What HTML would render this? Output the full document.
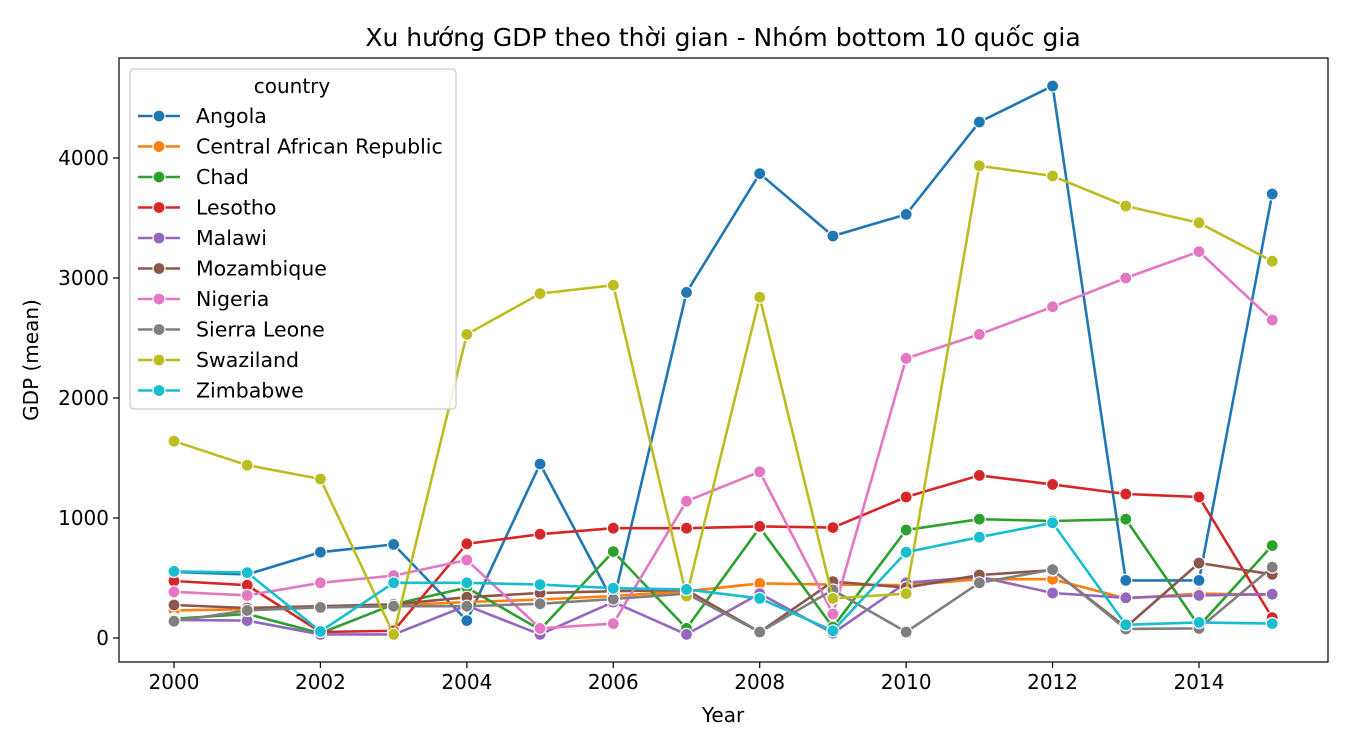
<!DOCTYPE html>
<html><head><meta charset="utf-8"><style>
body{margin:0;background:#fff;font-family:"Liberation Sans","DejaVu Sans",sans-serif}
svg text{font-family:"DejaVu Sans","Liberation Sans",sans-serif}
</style></head><body>
<svg id="chart" width="1350" height="750" xmlns="http://www.w3.org/2000/svg">
<rect width="1350" height="750" fill="#fff"/>
<text x="723" y="46" font-size="25" text-anchor="middle">Xu hướng GDP theo thời gian - Nhóm bottom 10 quốc gia</text>
<g id="plot"></g>
<text x="723" y="722" font-size="20" text-anchor="middle">Year</text>
<text x="38" y="360" font-size="20" text-anchor="middle" transform="rotate(-90 38 360)">GDP (mean)</text>
</svg>
<script>
const years=[2000,2001,2002,2003,2004,2005,2006,2007,2008,2009,2010,2011,2012,2013,2014,2015];
const xTicks=[2000,2002,2004,2006,2008,2010,2012,2014];
const yTicks=[0,1000,2000,3000,4000];
const countries=["Angola","Central African Republic","Chad","Lesotho","Malawi","Mozambique","Nigeria","Sierra Leone","Swaziland","Zimbabwe"];
const colors=["#1f77b4","#ff7f0e","#2ca02c","#d62728","#9467bd","#8c564b","#e377c2","#7f7f7f","#bcbd22","#17becf"];
const angola=[550,530,715,780,145,1450,300,2880,3870,3350,3530,4300,4600,480,480,3700];
const car=[230,240,260,270,300,320,350,390,455,445,440,490,490,330,370,360];
const chad=[160,200,40,280,420,70,720,80,920,90,900,990,975,990,100,770];
const lesotho=[475,440,50,60,785,865,915,915,930,920,1175,1355,1280,1200,1175,170];
const malawi=[150,145,30,30,270,30,300,30,370,40,460,510,375,335,355,365];
const mozambique=[275,250,265,280,340,375,390,400,50,470,420,525,565,90,625,530];
const nigeria=[385,355,460,520,650,80,120,1140,1385,200,2330,2530,2760,3000,3220,2650];
const sierra=[140,230,255,265,265,285,325,370,50,400,50,460,570,75,80,590];
const swaziland=[1640,1440,1325,30,2530,2870,2940,350,2840,330,370,3935,3850,3600,3460,3140];
const zimbabwe=[555,545,55,460,460,445,415,405,330,60,715,840,960,110,130,120];
const series=[angola,car,chad,lesotho,malawi,mozambique,nigeria,sierra,swaziland,zimbabwe];
const NS="http://www.w3.org/2000/svg";
const L=119,R=1328,T=58,B=662;
const xs=y=>174+(y-2000)*(1199-174)/14;
const ys=v=>638-v*0.12;
const g=document.getElementById('plot');
function mk(t,a,p){const e=document.createElementNS(NS,t);for(const k in a)e.setAttribute(k,a[k]);(p||g).appendChild(e);return e;}
xTicks.forEach(t=>{
 const l=mk('line',{x1:xs(t),x2:xs(t),y1:B,y2:B+6,stroke:'#000','stroke-width':1.2});
 
 
 const tx=mk('text',{x:xs(t),y:B+27,'font-size':20,'text-anchor':'middle'});tx.textContent=t;
 
 
});
yTicks.forEach(t=>{
 const l=mk('line',{x1:L-6,x2:L,y1:ys(t),y2:ys(t),stroke:'#000','stroke-width':1.2});
 
 
 const tx=mk('text',{x:L-10,y:ys(t)+7,'font-size':20,'text-anchor':'end'});tx.textContent=t;
 
 
});
series.forEach((s,i)=>{
 const pl=mk('polyline',{points:s.map((v,j)=>xs(years[j])+','+ys(v)).join(' '),fill:'none',stroke:colors[i],'stroke-width':2.6});
 
 
 s.forEach((v,j)=>{
  const c=mk('circle',{cx:xs(years[j]),cy:ys(v),r:6,fill:colors[i],stroke:'#fff','stroke-width':1.2});
  
  
 });
});
const fr=mk('rect',{x:L,y:T,width:R-L,height:B-T,fill:'none',stroke:'#000','stroke-width':1.2});


const lg=mk('g',{});


mk('rect',{x:130,y:69,width:326,height:340,rx:4,fill:'#fff','fill-opacity':0.85,stroke:'#ccc','stroke-width':1.2},lg);
const lt=mk('text',{x:292,y:93,'font-size':20,'text-anchor':'middle'},lg);lt.textContent='country';
countries.forEach((c,i)=>{
 const y=116+i*30.5;
 const e=mk('g',{},lg);
 
 
 mk('line',{x1:138,x2:180,y1:y,y2:y,stroke:colors[i],'stroke-width':2.6},e);
 mk('circle',{cx:159,cy:y,r:6,fill:colors[i],stroke:'#fff','stroke-width':1.2},e);
 const t=mk('text',{x:196,y:y+7,'font-size':20.5},e);t.textContent=c;
});
</script>
</body></html>
